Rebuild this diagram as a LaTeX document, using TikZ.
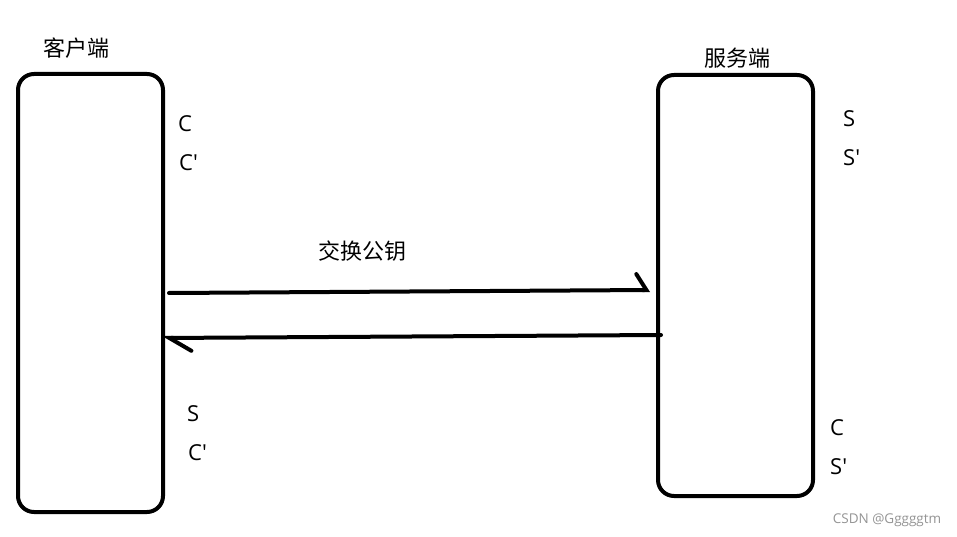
\documentclass[tikz,border=0pt]{standalone}
\usepackage{fontspec}
\setmainfont{Open Sans}[Ligatures=TeXOff]
\newfontfamily\cjk{Noto Sans CJK SC}
\usepackage{tikz}
\usetikzlibrary{arrows.meta, positioning}

\begin{document}
\begin{tikzpicture}[
    x=1pt, y=-1pt,
    endbox/.style={draw, line width=4pt, rounded corners=16pt, inner sep=0pt},
    title/.style={font=\cjk\fontsize{22}{24}\selectfont, inner sep=0pt},
    key/.style={font=\fontsize{22}{24}\selectfont, inner sep=0pt, anchor=west},
    sendarr/.style={line width=4pt, line cap=round,
                    -{Straight Barb[left, length=10pt, width=32pt, line cap=round]}},
    backarr/.style={line width=4pt, line cap=round,
                    -{Straight Barb[left, length=22pt, width=26pt, line cap=round]}},
    wmark/.style={font=\fontsize{13.5}{15}\selectfont, text=black!42, inner sep=0pt}
]
\useasboundingbox (0,0) rectangle (957,537);

% the two ends
\node[endbox, minimum width=145pt, minimum height=438pt] (client) at (90.5, 293) {};
\node[endbox, minimum width=155pt, minimum height=421pt] (server) at (735.5, 285.5) {};

\node[title] (clientlbl) at (76, 48) {客户端};
\node[title] (serverlbl) at (737, 58) {服务端};

% keys held by the client
\node[key] (cc)  at (178, 124) {C};
\node[key] (cc2) at (179, 163) {C'};
\node[key] (cs)  at (187, 414) {S};
\node[key] (cs2) at (188, 453) {C'};

% keys held by the server
\node[key] (ss)  at (843, 119) {S};
\node[key] (ss2) at (843, 158) {S'};
\node[key] (sc)  at (830, 428) {C};
\node[key] (sc2) at (830, 467) {S'};

% exchange
\draw[sendarr] ([shift={(4,0)}]client.east) -- ([shift={(-6,4.5)}]server.west);
\draw[backarr] ([shift={(5,49.5)}]server.west) -- ([shift={(-3,45)}]client.east);
\node[title] (swap) at (362, 251) {交换公钥};

\node[wmark] (credit) at (887, 520) {CSDN @Gggggtm};

\end{tikzpicture}
\end{document}
